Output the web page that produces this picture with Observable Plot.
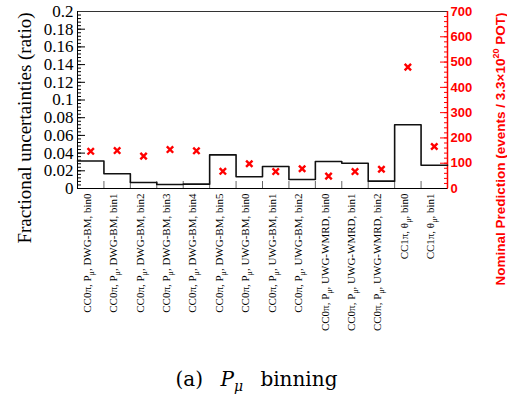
<!DOCTYPE html>
<html><head><meta charset="utf-8">
<script src="https://cdn.jsdelivr.net/npm/d3@7"></script>
<script src="https://cdn.jsdelivr.net/npm/@observablehq/plot@0.6"></script>
<style>
body{margin:0;background:#fff;}
#chart svg{display:block;}
#cap{font-family:"DejaVu Serif",serif;font-size:20px;line-height:23px;text-align:center;width:507px;margin-top:18px;padding-left:6px;box-sizing:border-box;word-spacing:11px;}
#cap sub{font-size:14px;}
</style></head><body>
<div id="chart"></div>
<div id="cap">(a) <i>P</i><sub><i>μ</i></sub> binning</div>
<script>
const binLabels = [
  "CC0π, P_μ, DWG-BM, bin0",
  "CC0π, P_μ, DWG-BM, bin1",
  "CC0π, P_μ, DWG-BM, bin2",
  "CC0π, P_μ, DWG-BM, bin3",
  "CC0π, P_μ, DWG-BM, bin4",
  "CC0π, P_μ, DWG-BM, bin5",
  "CC0π, P_μ, UWG-BM, bin0",
  "CC0π, P_μ, UWG-BM, bin1",
  "CC0π, P_μ, UWG-BM, bin2",
  "CC0π, P_μ, UWG-WMRD, bin0",
  "CC0π, P_μ, UWG-WMRD, bin1",
  "CC0π, P_μ, UWG-WMRD, bin2",
  "CC1π, θ_μ, bin0",
  "CC1π, θ_μ, bin1"
];
const fracUnc = [0.031, 0.0166, 0.0068, 0.0045, 0.0049, 0.038, 0.0132, 0.0249, 0.0102, 0.0305, 0.0286, 0.0083, 0.072, 0.0263];
const nominal = [147, 150, 128, 154, 149, 68, 98, 67, 78, 49, 67, 76, 480, 166];
const leftTicks = [0, 0.02, 0.04, 0.06, 0.08, 0.1, 0.12, 0.14, 0.16, 0.18, 0.2];
const leftMinor = d3.range(0, 51).map(i => i * 0.004);
const rightTicks = [0, 100, 200, 300, 400, 500, 600, 700];
const rightMinor = d3.range(0, 36).map(i => i * 20);
const Y_MAX = 0.2, E_MAX = 700;
const toY = e => e * Y_MAX / E_MAX;
const nBins = binLabels.length;

const stepData = fracUnc.map((v, i) => ({x: i, y: v})).concat([{x: nBins, y: fracUnc[nBins - 1]}]);
const edges = d3.range(1, nBins);

const serif = "Liberation Serif, Times New Roman, serif";
const sans = "Liberation Sans, Arial, sans-serif";

const plot = Plot.plot({
  width: 507, height: 350,
  marginLeft: 77, marginRight: 60, marginTop: 11, marginBottom: 162,
  x: {domain: [0, nBins], label: null},
  y: {domain: [0, Y_MAX], label: null},
  marks: [
    Plot.axisX({anchor: "bottom", ticks: edges, tickSize: 7, dy: -7, stroke: "#666", fill: "none", label: null}),
    Plot.axisY({anchor: "left", ticks: leftMinor, tickSize: 4, dx: 4, stroke: "black", fill: "none", label: null}),
    Plot.axisY({anchor: "left", ticks: leftTicks, tickSize: 8, dx: 8, stroke: "black", fill: "none", label: null}),
    Plot.axisY({anchor: "left", ticks: leftTicks, tickSize: 0, tickPadding: 4, fill: "black",
      tickFormat: d => String(+d.toFixed(2)), fontFamily: serif, fontSize: 17, label: null}),
    Plot.axisY({anchor: "right", ticks: rightMinor.map(toY), tickSize: 4, dx: -4, stroke: "red", fill: "none", label: null}),
    Plot.axisY({anchor: "right", ticks: rightTicks.map(toY), tickSize: 8, dx: -8, stroke: "red", fill: "none", label: null}),
    Plot.axisY({anchor: "right", ticks: rightTicks.map(toY), tickSize: 0, tickPadding: 3, fill: "red",
      tickFormat: v => String(Math.round(v * E_MAX / Y_MAX)), fontFamily: sans, fontWeight: "bold", fontSize: 13, label: null}),
    Plot.ruleY([Y_MAX], {stroke: "#333"}),
    Plot.ruleY([0], {stroke: "black"}),
    Plot.ruleX([0], {stroke: "black"}),
    Plot.ruleX([nBins], {stroke: "red", strokeWidth: 1.5}),
    Plot.line(stepData, {x: "x", y: "y", curve: "step-after", stroke: "#111", strokeWidth: 1.6}),
    Plot.dot(nominal, {x: (d, i) => i + 0.5, y: d => toY(d), symbol: "times", r: 3, stroke: "red", strokeWidth: 2.4}),
    Plot.text(binLabels, {x: (d, i) => i + 0.5, frameAnchor: "bottom", dy: 5, rotate: -90, textAnchor: "end",
      fontFamily: serif, fontSize: 11, fill: "black"}),
    Plot.text(["Fractional uncertainties (ratio)"], {frameAnchor: "top-left", dx: -60, dy: 1, rotate: -90, textAnchor: "end",
      fontFamily: serif, fontSize: 19, fill: "black"}),
    Plot.text(["Nominal Prediction (events / 3.3×10^20 POT)"], {frameAnchor: "top-right", dx: 48, dy: 1, rotate: -90, textAnchor: "end",
      fontFamily: sans, fontWeight: "bold", fontSize: 13.5, fill: "red"})
  ]
});

const svg = d3.select(plot);
svg.selectAll("g[aria-label='y-axis tick label']").each(function() {
  const g = d3.select(this);
  const isRight = g.attr("fill") === "red";
  g.attr("font-family", isRight ? sans : serif);
  if (isRight) g.attr("font-weight", "bold");
});
svg.selectAll("text").each(function() {
  const el = d3.select(this);
  const s = el.text();
  if (s.includes("_μ")) {
    const parts = s.split("_μ");
    el.text(null);
    el.append("tspan").text(parts[0]);
    el.append("tspan").attr("dy", 3).attr("font-size", 8).text("μ");
    el.append("tspan").attr("dy", -3).text(parts[1]);
  } else if (s.includes("^20")) {
    const parts = s.split("^20");
    el.text(null);
    el.append("tspan").text(parts[0]);
    el.append("tspan").attr("dy", -6).attr("font-size", 9).text("20");
    el.append("tspan").attr("dy", 6).text(parts[1]);
  }
});
document.getElementById("chart").appendChild(plot);
</script>
</body></html>
